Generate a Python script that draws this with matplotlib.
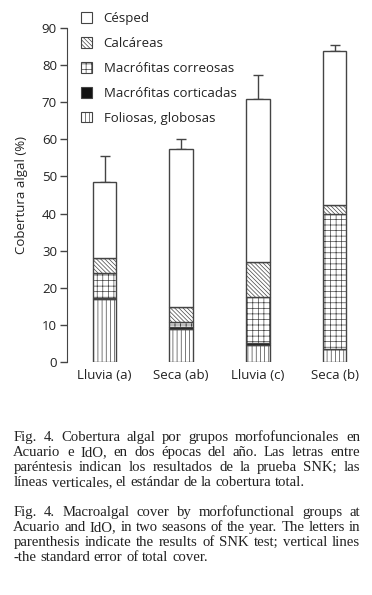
import matplotlib
matplotlib.use("Agg")
import numpy as np
from matplotlib import pyplot as plt
from matplotlib.patches import Patch

# datos (cobertura %, apilada)
grupos = ["Lluvia (a)", "Seca (ab)", "Lluvia (c)", "Seca (b)"]
foliosas = [17.0, 9.0, 4.5, 3.6]
corticadas = [0.3, 0.3, 0.6, 0.0]
correosas = [6.8, 1.4, 12.4, 36.4]
calcareas = [3.9, 4.0, 9.4, 2.2]
cesped = [20.4, 42.7, 44.1, 41.5]
error_total = [7.2, 2.6, 6.3, 1.6]

etiquetas = ["Foliosas, globosas", "Macrófitas corticadas", "Macrófitas correosas",
             "Calcáreas", "Césped"]

lineas_es = [
    "Fig. 4. Cobertura algal por grupos morfofuncionales en",
    "Acuario e IdO, en dos épocas del año. Las letras entre",
    "paréntesis indican los resultados de la prueba SNK; las",
    "líneas verticales, el estándar de la cobertura total.",
]
lineas_en = [
    "Fig. 4. Macroalgal cover by morfofunctional groups at",
    "Acuario and IdO, in two seasons of the year. The letters in",
    "parenthesis indicate the results of SNK test; vertical lines",
    "-the standard error of total cover.",
]

plt.rcParams['font.family'] = ['Open Sans', 'DejaVu Sans']
plt.rcParams['hatch.linewidth'] = 0.5
texto = '#222222'
borde = '#444444'

W, H = 372, 595
fig = plt.figure(figsize=(W / 100, H / 100), dpi=100)
ax = fig.add_axes([66.7 / W, (H - 362) / H, 293.3 / W, 334 / H])

x = np.arange(len(grupos))
ancho = 0.306
capas = [foliosas, corticadas, correosas, calcareas, cesped]
estilos = [
    dict(color='white', hatch='||||'),
    dict(color='#111111', hatch=None),
    dict(color='white', hatch='+++'),
    dict(color='white', hatch='\\' * 8),
    dict(color='white', hatch=None),
]
base = np.zeros(len(grupos))
for valores, est in zip(capas, estilos):
    ax.bar(x, valores, ancho, bottom=base, color=est['color'], hatch=est['hatch'],
           edgecolor=borde, linewidth=1.0)
    base = base + np.array(valores)

ax.errorbar(x, base, yerr=[np.zeros(len(grupos)), error_total], fmt='none',
            ecolor=borde, elinewidth=1.0, capsize=3.5, capthick=1.0, zorder=0)

ax.set_xlim(-0.493, 3.331)
ax.set_ylim(0, 90)
ax.set_yticks(np.arange(0, 91, 10))
ax.set_xticks(x)
ax.set_xticklabels(grupos)
for s in ['top', 'right', 'bottom']:
    ax.spines[s].set_visible(False)
ax.spines['left'].set_color(borde)
ax.tick_params(axis='y', length=5, width=1, color=borde, labelsize=9.5, labelcolor=texto, pad=2)
ax.tick_params(axis='x', length=0, labelsize=9.5, labelcolor=texto, pad=5)
ax.set_ylabel("Cobertura algal (%)", fontsize=9.5, color=texto)
ax.yaxis.set_label_coords(-0.131, 0.5)

handles = []
for lab, est in zip(etiquetas, estilos):
    handles.append(Patch(facecolor=est['color'], hatch=est['hatch'], edgecolor=borde,
                         linewidth=0.8, label=lab))
leg = fig.legend(handles[::-1], etiquetas[::-1], loc='upper left',
                 bbox_to_anchor=(76 / W, 1 - 7 / H), frameon=False, fontsize=9.5,
                 handlelength=0.85, handleheight=0.85, handletextpad=0.85,
                 labelspacing=0.9, borderaxespad=0)
for t in leg.get_texts():
    t.set_color(texto)

# pie de figura justificado
renderer = fig.canvas.get_renderer()
izq, der = 13.3, 360.0
tam = 10.6


def ancho_texto(s, y):
    t = fig.text(0, y, s, family='Liberation Serif', fontsize=tam)
    w = t.get_window_extent(renderer).width
    t.remove()
    return w


def escribir_parrafo(lineas, y0):
    for i, linea in enumerate(lineas):
        y = 1 - (y0 + 15 * i) / H
        palabras = linea.split(' ')
        ultima = i == len(lineas) - 1
        objs = [fig.text(0, y, p, family='Liberation Serif', fontsize=tam,
                         color=texto, va='baseline') for p in palabras]
        anchos = [o.get_window_extent(renderer).width for o in objs]
        sp = ancho_texto('a a', y) - ancho_texto('aa', y)
        if ultima or len(palabras) == 1:
            hueco = sp
        else:
            hueco = max((der - izq - sum(anchos)) / (len(palabras) - 1), sp * 0.5)
        xp = izq
        for o, w in zip(objs, anchos):
            o.set_x(xp / W)
            xp += w + hueco


escribir_parrafo(lineas_es, 441.0)
escribir_parrafo(lineas_en, 516.0)

fig.savefig('out.png', dpi=100)
